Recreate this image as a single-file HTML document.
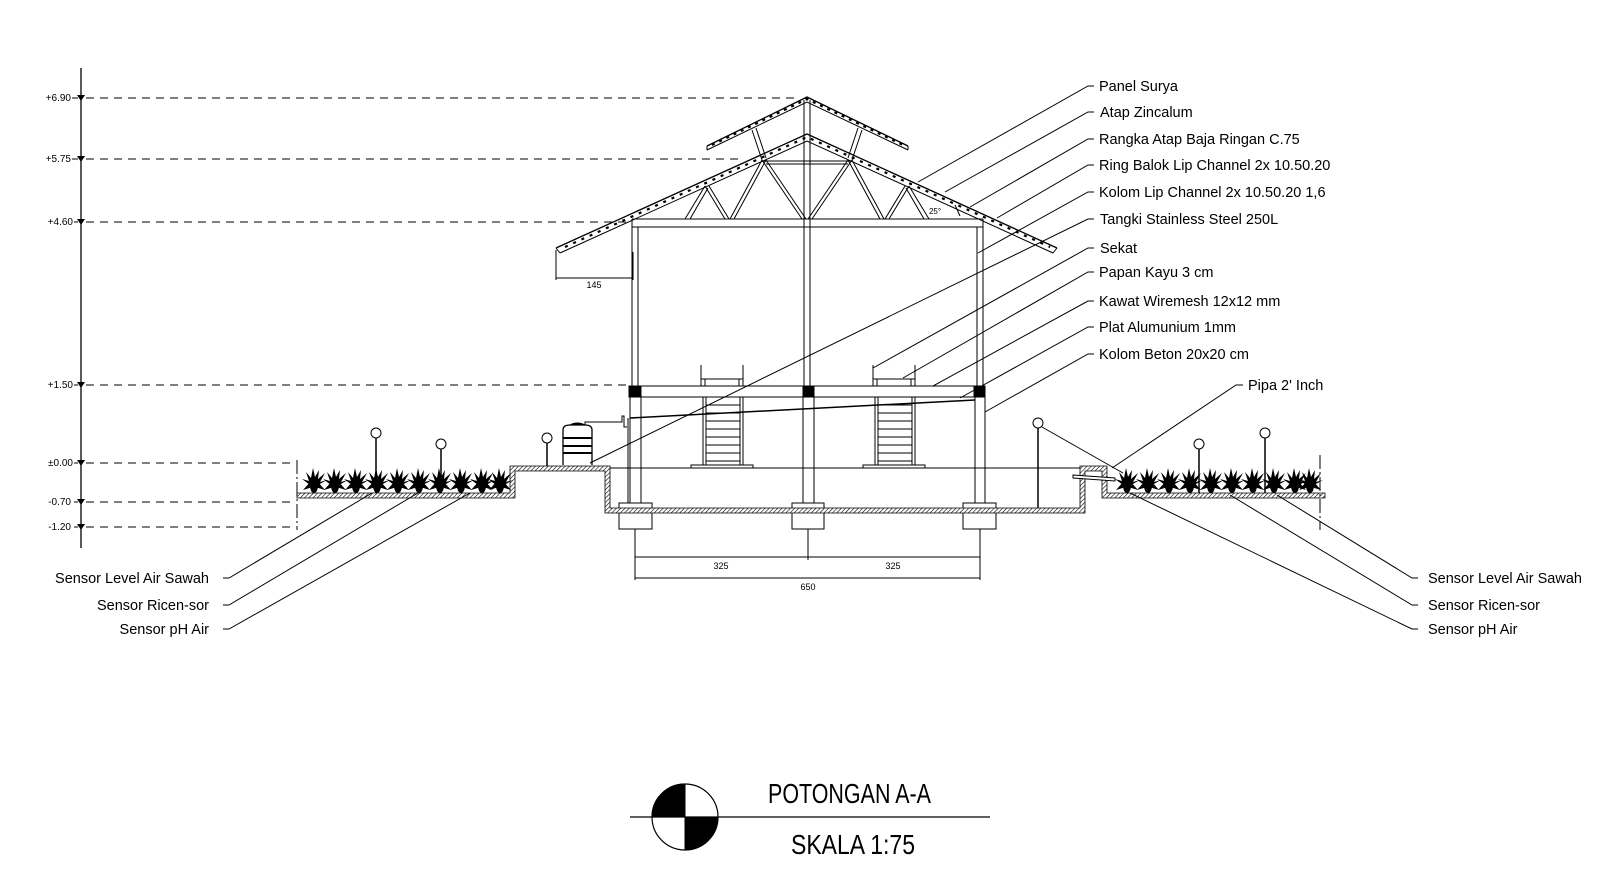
<!DOCTYPE html>
<html><head><meta charset="utf-8"><style>
html,body{margin:0;padding:0;background:#fff;}
svg{display:block;}
text{font-family:"Liberation Sans",sans-serif;fill:#000;}
</style></head><body>
<svg width="1609" height="869" viewBox="0 0 1609 869" xmlns="http://www.w3.org/2000/svg">
<defs>
<pattern id="h" width="3" height="3" patternUnits="userSpaceOnUse" patternTransform="rotate(45)">
<rect width="3" height="3" fill="#fff"/><line x1="0" y1="0" x2="0" y2="3" stroke="#000" stroke-width="1.2"/>
</pattern>
<g id="pl">
<path d="M0,25 L-4,17 L-12,11 L-5,13 L-8,4 L-3,10 L-1,0 L1,9 L5,2 L4,11 L11,5 L6,14 L13,12 L4,17 Z" fill="#000"/>
<path d="M-11,22 L-3,13 L-1,19 Z M11,22 L3,13 L1,19 Z" fill="#000"/>
<ellipse cx="0" cy="18" rx="4" ry="7" fill="#000"/>
</g>
</defs>
<g stroke="#000" fill="none" stroke-width="1">
<line x1="81" y1="68" x2="81" y2="548" stroke-width="1.3"/>
<g stroke-dasharray="8,6">
<line x1="86" y1="98" x2="800" y2="98"/>
<line x1="86" y1="159" x2="740" y2="159"/>
<line x1="86" y1="222" x2="632" y2="222"/>
<line x1="86" y1="385" x2="630" y2="385"/>
<line x1="86" y1="463" x2="295" y2="463"/>
<line x1="86" y1="502" x2="295" y2="502"/>
<line x1="86" y1="527" x2="295" y2="527"/>
</g>
<g fill="#000" stroke="none">
<path d="M77,95 L85,95 L81,101Z"/><path d="M77,156 L85,156 L81,162Z"/><path d="M77,219 L85,219 L81,225Z"/>
<path d="M77,382 L85,382 L81,388Z"/><path d="M77,460 L85,460 L81,466Z"/><path d="M77,499 L85,499 L81,505Z"/><path d="M77,524 L85,524 L81,530Z"/>
</g>
<line x1="72" y1="98" x2="78" y2="98"/><line x1="72" y1="159" x2="78" y2="159"/><line x1="74" y1="222" x2="78" y2="222"/>
<line x1="74" y1="385" x2="78" y2="385"/><line x1="74" y1="463" x2="78" y2="463"/><line x1="74" y1="502" x2="78" y2="502"/><line x1="74" y1="527" x2="78" y2="527"/>

<!-- top roof panel -->
<polyline points="707,146 807,97 908,146" stroke-width="1.3"/>
<polyline points="707,150 807,102 908,150"/>
<polyline points="712,145 807,99 903,145" stroke-width="2.2" stroke-dasharray="3,5"/>
<line x1="707" y1="146" x2="707" y2="150"/><line x1="908" y1="146" x2="908" y2="150"/>
<!-- lower roof -->
<polyline points="556,248 807,134 1057,248" stroke-width="1.3"/>
<polyline points="560,253 807,141 1053,253"/>
<polyline points="565,247 807,137 1050,247" stroke-width="2.2" stroke-dasharray="3,6"/>
<line x1="556" y1="248" x2="560" y2="253"/><line x1="1057" y1="248" x2="1053" y2="253"/>
<!-- ring beam -->
<line x1="632" y1="219" x2="983" y2="219"/>
<line x1="632" y1="227" x2="983" y2="227"/>
<!-- truss -->
<line x1="685" y1="219" x2="705" y2="186"/><line x1="690" y1="219" x2="708" y2="188"/>
<line x1="705" y1="186" x2="725" y2="219"/><line x1="709" y1="186" x2="729" y2="219"/>
<line x1="730" y1="219" x2="762" y2="160"/><line x1="734" y1="219" x2="766" y2="160"/>
<line x1="762" y1="160" x2="802" y2="219"/><line x1="766" y1="160" x2="806" y2="219"/>
<line x1="929" y1="219" x2="909" y2="186"/><line x1="924" y1="219" x2="906" y2="188"/>
<line x1="909" y1="186" x2="889" y2="219"/><line x1="905" y1="186" x2="885" y2="219"/>
<line x1="884" y1="219" x2="852" y2="160"/><line x1="880" y1="219" x2="848" y2="160"/>
<line x1="852" y1="160" x2="812" y2="219"/><line x1="848" y1="160" x2="808" y2="219"/>
<line x1="763" y1="161" x2="852" y2="161"/><line x1="766" y1="164" x2="848" y2="164"/>
<line x1="762" y1="160" x2="752" y2="130"/><line x1="766" y1="158" x2="756" y2="128"/>
<line x1="852" y1="160" x2="862" y2="130"/><line x1="848" y1="158" x2="858" y2="128"/>
<!-- columns upper -->
<line x1="632" y1="219" x2="632" y2="386"/><line x1="638" y1="227" x2="638" y2="386"/>
<line x1="804" y1="100" x2="804" y2="386"/><line x1="810" y1="100" x2="810" y2="386"/>
<line x1="977" y1="227" x2="977" y2="386"/><line x1="983" y1="219" x2="983" y2="386"/>
<!-- 145 dim -->
<line x1="556" y1="250" x2="556" y2="280"/><line x1="633" y1="252" x2="633" y2="280"/>
<line x1="556" y1="278" x2="633" y2="278"/>
<!-- floor beam -->
<rect x="629" y="386" width="356" height="11"/>
<rect x="629" y="386" width="12" height="11" fill="#000"/>
<rect x="803" y="386" width="11" height="11" fill="#000"/>
<rect x="974" y="386" width="11" height="11" fill="#000"/>
<rect x="630" y="397" width="11" height="106"/>
<rect x="803" y="397" width="11" height="106"/>
<rect x="975" y="397" width="10" height="106"/>
<rect x="619" y="503" width="33" height="26" fill="#fff"/>
<rect x="792" y="503" width="32" height="26" fill="#fff"/>
<rect x="963" y="503" width="33" height="26" fill="#fff"/>
<!-- stairs -->
<g>
<line x1="701" y1="365" x2="701" y2="386"/><line x1="743" y1="365" x2="743" y2="386"/>
<line x1="701" y1="379" x2="743" y2="379"/><rect x="705" y="379" width="34" height="7"/>
<line x1="703" y1="397" x2="703" y2="465"/><line x1="706" y1="397" x2="706" y2="465"/>
<line x1="740" y1="397" x2="740" y2="465"/><line x1="743" y1="397" x2="743" y2="465"/>
<line x1="706" y1="405" x2="740" y2="405"/><line x1="706" y1="413" x2="740" y2="413"/><line x1="706" y1="421" x2="740" y2="421"/><line x1="706" y1="429" x2="740" y2="429"/><line x1="706" y1="437" x2="740" y2="437"/><line x1="706" y1="445" x2="740" y2="445"/><line x1="706" y1="453" x2="740" y2="453"/><line x1="706" y1="461" x2="740" y2="461"/>
<rect x="691" y="465" width="62" height="3"/>
</g>
<g transform="translate(172,0)">
<line x1="701" y1="365" x2="701" y2="386"/><line x1="743" y1="365" x2="743" y2="386"/>
<line x1="701" y1="379" x2="743" y2="379"/><rect x="705" y="379" width="34" height="7"/>
<line x1="703" y1="397" x2="703" y2="465"/><line x1="706" y1="397" x2="706" y2="465"/>
<line x1="740" y1="397" x2="740" y2="465"/><line x1="743" y1="397" x2="743" y2="465"/>
<line x1="706" y1="405" x2="740" y2="405"/><line x1="706" y1="413" x2="740" y2="413"/><line x1="706" y1="421" x2="740" y2="421"/><line x1="706" y1="429" x2="740" y2="429"/><line x1="706" y1="437" x2="740" y2="437"/><line x1="706" y1="445" x2="740" y2="445"/><line x1="706" y1="453" x2="740" y2="453"/><line x1="706" y1="461" x2="740" y2="461"/>
<rect x="691" y="465" width="62" height="3"/>
</g>
<!-- pipe -->
<line x1="630" y1="418" x2="975" y2="400" stroke-width="1.5"/>
<polyline points="585,425 585,422 622,422 622,416 624,416 624,427 627,427"/>
<line x1="628" y1="418" x2="628" y2="503"/>
<!-- tank -->
<path d="M563,465 L563,430 Q563,425 570,425 L585,425 Q592,425 592,430 L592,465" stroke-width="1.3"/>
<path d="M570,425 Q577,421 585,425" fill="#000"/>
<line x1="563" y1="438" x2="592" y2="438" stroke-width="2"/><line x1="563" y1="446" x2="592" y2="446" stroke-width="2"/><line x1="563" y1="453" x2="592" y2="453" stroke-width="2"/>
<!-- ground -->
<path d="M297,493 L510,493 L510,466 L610,466 L610,508 L1080,508 L1080,466 L1107,466 L1107,493 L1325,493 L1325,498 L1102,498 L1102,471 L1085,471 L1085,513 L605,513 L605,471 L515,471 L515,498 L297,498 Z" fill="url(#h)" stroke-width="0.8"/>
<line x1="610" y1="468" x2="1080" y2="468"/>
<line x1="297" y1="460" x2="297" y2="530" stroke-dasharray="14,3,2,3"/>
<line x1="1320" y1="455" x2="1320" y2="530" stroke-dasharray="14,3,2,3"/>
<!-- sensors -->
<circle cx="376" cy="433" r="5"/><line x1="376" y1="438" x2="376" y2="493" stroke-width="1.5"/>
<circle cx="441" cy="444" r="5"/><line x1="441" y1="449" x2="441" y2="493" stroke-width="1.5"/>
<circle cx="547" cy="438" r="5"/><line x1="547" y1="443" x2="547" y2="466" stroke-width="1.5"/>
<circle cx="1038" cy="423" r="5"/><line x1="1038" y1="428" x2="1038" y2="508" stroke-width="1.5"/>
<circle cx="1199" cy="444" r="5"/><line x1="1199" y1="449" x2="1199" y2="493" stroke-width="1.5"/>
<circle cx="1265" cy="433" r="5"/><line x1="1265" y1="438" x2="1265" y2="493" stroke-width="1.5"/>
<line x1="1042" y1="427" x2="1123" y2="473"/>
<polygon points="1073,475 1115,478 1115,481 1073,478" fill="#fff"/>
<!-- leaders right -->
<polyline points="1094,86 1088,86 918,182"/>
<polyline points="1094,112 1088,112 945,192"/>
<polyline points="1094,139 1088,139 970,207"/>
<polyline points="1094,165 1088,165 997,218"/>
<polyline points="1094,192 1088,192 978,253"/>
<polyline points="1094,219 1088,219 590,463"/>
<polyline points="1094,248 1088,248 873,368"/>
<polyline points="1094,272 1088,272 903,378"/>
<polyline points="1094,301 1088,301 933,386"/>
<polyline points="1094,327 1088,327 960,398"/>
<polyline points="1094,354 1088,354 985,412"/>
<polyline points="1243,385 1236,385 1112,468"/>
<path d="M955,205 L960,216"/>
<polyline points="223,578 229,578 372,493"/>
<polyline points="223,605 229,605 418,493"/>
<polyline points="223,629 229,629 470,493"/>
<polyline points="1418,578 1412,578 1277,495"/>
<polyline points="1418,605 1412,605 1230,495"/>
<polyline points="1418,629 1412,629 1130,493"/>
<!-- dims -->
<line x1="635" y1="529" x2="635" y2="580"/><line x1="808" y1="529" x2="808" y2="560"/><line x1="980" y1="529" x2="980" y2="580"/>
<line x1="635" y1="557" x2="980" y2="557"/>
<line x1="635" y1="578" x2="980" y2="578"/>
<!-- title -->
<line x1="630" y1="817" x2="990" y2="817" stroke-width="1.2"/>
<circle cx="685" cy="817" r="33" stroke-width="1.2"/>
<path d="M685,817 L685,784 A33,33 0 0 0 652,817 Z" fill="#000"/>
<path d="M685,817 L718,817 A33,33 0 0 1 685,850 Z" fill="#000"/>
</g>
<!-- plants -->
<g>
<use href="#pl" x="314" y="468"/><use href="#pl" x="335" y="468"/><use href="#pl" x="356" y="468"/><use href="#pl" x="377" y="468"/><use href="#pl" x="398" y="468"/><use href="#pl" x="419" y="468"/><use href="#pl" x="440" y="468"/><use href="#pl" x="461" y="468"/><use href="#pl" x="482" y="468"/><use href="#pl" x="500" y="468"/>
<use href="#pl" x="1127" y="468"/><use href="#pl" x="1148" y="468"/><use href="#pl" x="1169" y="468"/><use href="#pl" x="1190" y="468"/><use href="#pl" x="1211" y="468"/><use href="#pl" x="1232" y="468"/><use href="#pl" x="1253" y="468"/><use href="#pl" x="1274" y="468"/><use href="#pl" x="1295" y="468"/><use href="#pl" x="1310" y="468"/>
</g>
<g font-size="10" text-anchor="end">
<text x="71" y="101">+6.90</text><text x="71" y="162">+5.75</text><text x="73" y="225">+4.60</text>
<text x="73" y="388">+1.50</text><text x="73" y="466">±0.00</text><text x="71" y="505">-0.70</text><text x="71" y="530">-1.20</text>
</g>
<g font-size="9" text-anchor="middle">
<text x="594" y="288">145</text><text x="721" y="569">325</text><text x="893" y="569">325</text><text x="808" y="590">650</text>
<text x="935" y="214" font-size="8">25°</text>
</g>
<g font-size="14.5">
<text x="1099" y="91">Panel Surya</text>
<text x="1100" y="117">Atap Zincalum</text>
<text x="1099" y="144">Rangka Atap Baja Ringan C.75</text>
<text x="1099" y="170">Ring Balok Lip Channel 2x 10.50.20</text>
<text x="1099" y="197">Kolom Lip Channel 2x 10.50.20 1,6</text>
<text x="1100" y="224">Tangki Stainless Steel 250L</text>
<text x="1100" y="253">Sekat</text>
<text x="1099" y="277">Papan Kayu 3 cm</text>
<text x="1099" y="306">Kawat Wiremesh 12x12 mm</text>
<text x="1099" y="332">Plat Alumunium 1mm</text>
<text x="1099" y="359">Kolom Beton 20x20 cm</text>
<text x="1248" y="390">Pipa 2' Inch</text>
<g text-anchor="end">
<text x="209" y="583">Sensor Level Air Sawah</text>
<text x="209" y="610">Sensor Ricen-sor</text>
<text x="209" y="634">Sensor pH Air</text>
</g>
<text x="1428" y="583">Sensor Level Air Sawah</text>
<text x="1428" y="610">Sensor Ricen-sor</text>
<text x="1428" y="634">Sensor pH Air</text>
</g>
<text x="768" y="803" font-size="28" textLength="163" lengthAdjust="spacingAndGlyphs">POTONGAN A-A</text>
<text x="791" y="854" font-size="28" textLength="124" lengthAdjust="spacingAndGlyphs">SKALA 1:75</text>
</svg>
</body></html>
